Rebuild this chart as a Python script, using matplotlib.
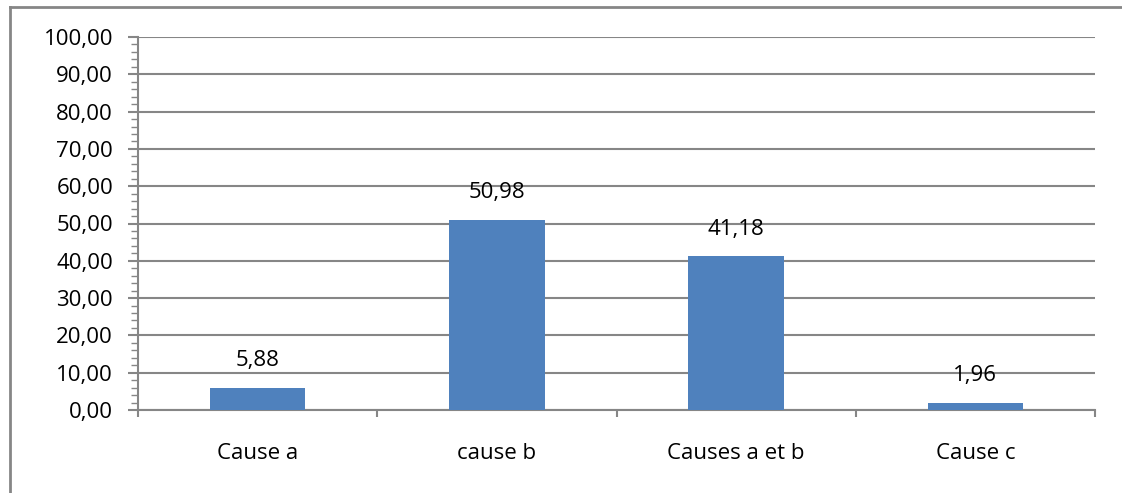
import matplotlib.pyplot as plt
from matplotlib.lines import Line2D
from matplotlib.ticker import MultipleLocator, FuncFormatter

categories = ["Cause a", "cause b", "Causes a et b", "Cause c"]
values = [5.88, 50.98, 41.18, 1.96]

plt.rcParams['font.family'] = ['Open Sans', 'DejaVu Sans']

fig = plt.figure(figsize=(11.22, 4.93), dpi=100)
ax = fig.add_axes([138 / 1122, 83 / 493, (1095 - 138) / 1122, (410 - 37) / 493])

grey = "#868686"
x = range(len(categories))
ax.bar(x, values, width=0.4, color="#4f81bd", zorder=3)

# valeurs au-dessus des barres
for xi, v in zip(x, values):
    ax.annotate(f"{v:.2f}".replace(".", ","), (xi, v), xytext=(0, 12),
                textcoords="offset points", ha="center", va="bottom", fontsize=16)

ax.set_xlim(-0.5, len(categories) - 0.5)
ax.set_ylim(0, 100)
ax.yaxis.set_major_locator(MultipleLocator(10))
ax.yaxis.set_minor_locator(MultipleLocator(2))
ax.yaxis.set_major_formatter(FuncFormatter(lambda v, p: f"{v:.2f}".replace(".", ",")))
ax.grid(axis="y", color=grey, linewidth=1.5, zorder=0)

ax.set_xticks(list(x))
ax.set_xticklabels(categories, fontsize=16)
ax.set_xticks([i - 0.5 for i in range(len(categories) + 1)], minor=True)
ax.tick_params(axis="x", which="major", length=0, pad=24)
ax.tick_params(axis="x", which="minor", length=5, color=grey, width=1.5)
ax.tick_params(axis="y", which="major", length=7, color=grey, width=1.5, labelsize=16, pad=11)
ax.tick_params(axis="y", which="minor", length=5, color=grey, width=1)

for s in ["top", "right"]:
    ax.spines[s].set_visible(False)
for s in ["left", "bottom"]:
    ax.spines[s].set_color(grey)
    ax.spines[s].set_linewidth(1.5)

# cadre extérieur du graphique
fig.add_artist(Line2D([10 / 1122, 10 / 1122], [0, 1 - 7 / 493], color=grey, linewidth=2,
                      transform=fig.transFigure))
fig.add_artist(Line2D([10 / 1122, 1], [1 - 7 / 493, 1 - 7 / 493], color=grey, linewidth=2,
                      transform=fig.transFigure))

fig.savefig("out.png", dpi=100)
